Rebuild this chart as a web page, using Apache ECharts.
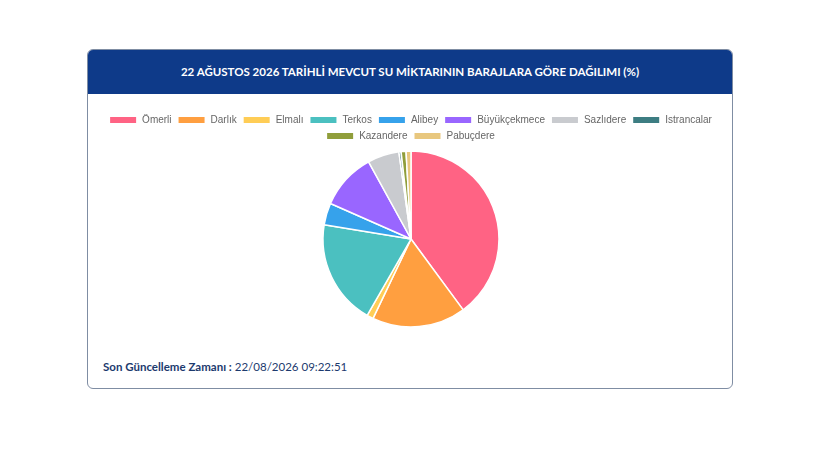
<!DOCTYPE html>
<html lang="tr">
<head>
<meta charset="UTF-8">
<title>Baraj dağılımı</title>
<script src="https://cdn.jsdelivr.net/npm/echarts@6/dist/echarts.min.js"></script>
<style>
  html, body { margin: 0; padding: 0; background: #fff; }
  body { width: 820px; height: 461px; position: relative; overflow: hidden; font-family: "Lato", "Noto Sans", sans-serif; }
  .card {
    position: absolute; left: 87px; top: 49px; width: 644px; height: 338px;
    border: 1px solid #7f8da3; border-radius: 6px; overflow: hidden; background: #fff;
  }
  .card-head {
    height: 44px; background: #0e3a89; color: #fff;
    font-weight: bold; font-size: 11.5px; text-align: center; line-height: 44px;
  }
  #chart { position: absolute; left: 0; top: 44px; width: 644px; height: 250px; }
  .stamp {
    position: absolute; left: 15px; top: 310px; font-size: 11.5px; color: #1c3a6e;
  }
  .stamp b { font-weight: bold; }
</style>
</head>
<body>
<div class="card">
  <div class="card-head">22 AĞUSTOS 2026 TARİHLİ MEVCUT SU MİKTARININ BARAJLARA GÖRE DAĞILIMI (%)</div>
  <div id="chart"></div>
  <div class="stamp"><b>Son Güncelleme Zamanı :</b> 22/08/2026 09:22:51</div>
</div>
<script>
// baraj adları ve doluluk payları (%)
var dams = ['Ömerli', 'Darlık', 'Elmalı', 'Terkos', 'Alibey', 'Büyükçekmece', 'Sazlıdere', 'Istrancalar', 'Kazandere', 'Pabuçdere'];
var shares = [39.9, 17.2, 1.2, 19.3, 4.0, 10.4, 5.8, 0.4, 0.9, 0.9];
var colors = ['#ff6384', '#ff9f40', '#ffcd56', '#4bc0c0', '#36a2eb', '#9966ff', '#c9cbcf', '#3d7d82', '#909e3b', '#e8c77e'];

var chart = echarts.init(document.getElementById('chart'));

var pieData = dams.map(function (name, i) {
  return { name: name, value: shares[i], itemStyle: { color: colors[i] } };
});

// lejant iki satır, her satır ortalı
function legendRow(names, top) {
  return {
    top: top,
    left: 'center',
    itemWidth: 28,
    itemHeight: 8,
    itemGap: 5,
    icon: 'rect',
    textStyle: { color: '#666', fontSize: 10, fontFamily: 'Liberation Sans' },
    data: names
  };
}

chart.setOption({
  animation: false,
  legend: [
    legendRow(dams.slice(0, 8), 16),
    legendRow(dams.slice(8), 32)
  ],
  series: [
    {
      type: 'pie',
      center: [323, 145],
      radius: 88,
      startAngle: 90,
      clockwise: true,
      label: { show: false },
      labelLine: { show: false },
      emphasis: { disabled: true },
      itemStyle: { borderColor: '#fff', borderWidth: 1.5 },
      data: pieData
    }
  ]
});
</script>
</body>
</html>
